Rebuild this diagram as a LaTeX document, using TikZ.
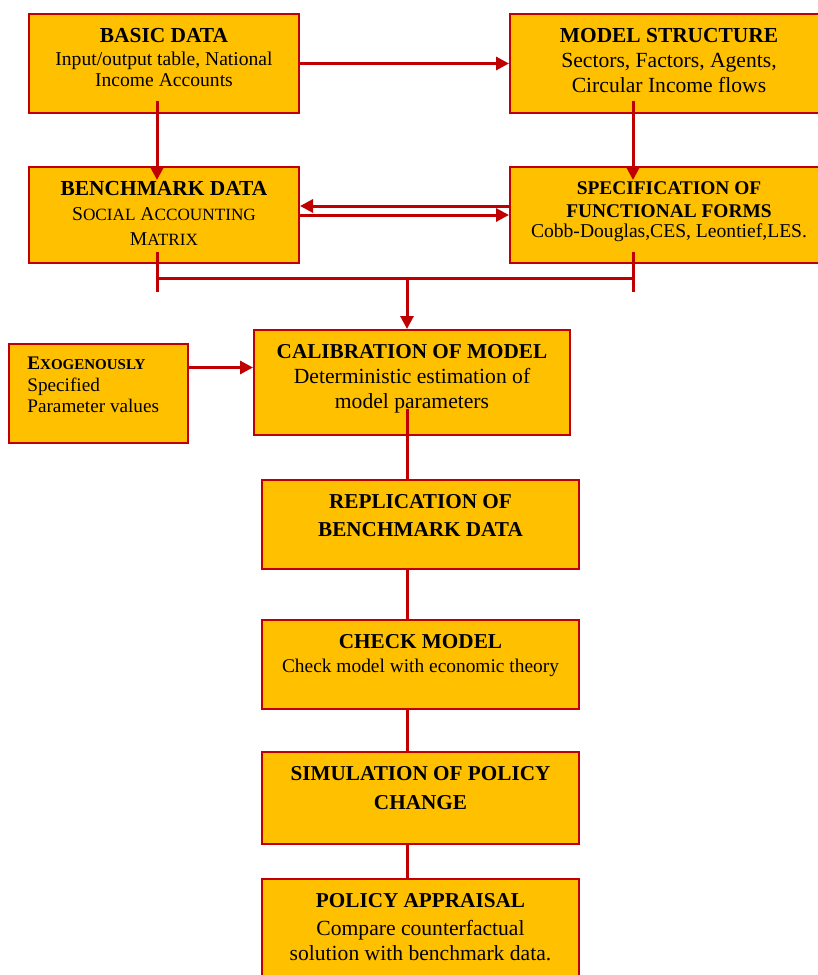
\documentclass[tikz,border=0pt]{standalone}
\usepackage{fontspec}
\setmainfont{Liberation Serif}
\usetikzlibrary{positioning}
\usetikzlibrary{arrows.meta}
\definecolor{cajafondo}{HTML}{FFC000}
\definecolor{rojo}{HTML}{C00000}
\newcommand{\titulo}[2][10.7]{{\fontsize{#1}{12}\selectfont\bfseries #2}}
\newcommand{\versalita}[3][8.6]{#2{\fontsize{#1}{10}\selectfont #3}}

\begin{document}
\begin{tikzpicture}[x=0.5pt, y=-0.5pt,
        caja/.style={draw=rojo, fill=cajafondo, line width=1pt, inner sep=0pt, anchor=north west},
        texto/.style={align=center, inner sep=0pt, anchor=north},
        flujo/.style={draw=rojo, line width=1.5pt},
        >={Triangle[length=6.5pt, width=6.5pt]}]
        \useasboundingbox (0,0) rectangle (818,975);

        % Cajas de arriba
        \node[caja, minimum width=135pt, minimum height=49.5pt] (basic) at (28,13) {};
        \node[caja, minimum width=159pt, minimum height=49.5pt] (model) at (509,13) {};
        \node[caja, minimum width=135pt, minimum height=48pt] (bench) at (28,166) {};
        \node[caja, minimum width=159pt, minimum height=48pt] (spec) at (509,166) {};

        % Calibracion
        \node[caja, minimum width=89.5pt, minimum height=49.5pt] (exo) at (8,343) {};
        \node[caja, minimum width=158pt, minimum height=52.5pt] (calib) at (253,329) {};

        % Cadena central
        \node[caja, minimum width=158.5pt, minimum height=44.5pt] (repl) at (261,479) {};
        \node[caja, minimum width=158.5pt, minimum height=44.5pt] (check) at (261,619) {};
        \node[caja, minimum width=158.5pt, minimum height=46pt] (simul) at (261,751) {};
        \node[caja, minimum width=158.5pt, minimum height=56pt] (policy) at (261,878) {};

        % Textos
        \node[texto, font=\fontsize{9.8}{10.5}\selectfont] (basic-t) at ([yshift=-7.3pt]basic.north)
                {\titulo{BASIC DATA}\\[1pt] Input/output table, National\\ Income Accounts};
        \node[texto, font=\fontsize{10.8}{12.5}\selectfont] (model-t) at ([yshift=-7.3pt]model.north)
                {\titulo{MODEL STRUCTURE}\\ Sectors, Factors, Agents,\\ Circular Income flows};
        \node[texto, font=\fontsize{9.8}{12.5}\selectfont] (bench-t) at ([yshift=-7.3pt]bench.north)
                {\titulo{BENCHMARK DATA}\\ \versalita{S}{OCIAL} \versalita{A}{CCOUNTING}\\ \versalita{M}{ATRIX}};
        \node[texto, font=\fontsize{9.8}{10}\selectfont] (spec-t) at ([yshift=-7.4pt]spec.north)
                {\titulo[9.7]{SPECIFICATION OF}\\[1.5pt] \titulo[9.7]{FUNCTIONAL FORMS}\\ Cobb-Douglas,CES, Leontief,LES.};
        \node[texto, align=left, anchor=north west, font=\fontsize{9.6}{10.75}\selectfont] (exo-t)
                at ([xshift=9.5pt, yshift=-6.9pt]exo.north west)
                {\textbf{\versalita[7.5]{E}{XOGENOUSLY}}\\ Specified\\ Parameter values};
        \node[texto, font=\fontsize{10.8}{12.5}\selectfont] (calib-t) at ([yshift=-7.3pt]calib.north)
                {\titulo[10.6]{CALIBRATION OF MODEL}\\ Deterministic estimation of\\ model parameters};
        \node[texto, font=\fontsize{10.6}{14}\selectfont\bfseries] (repl-t) at ([yshift=-7.5pt]repl.north)
                {REPLICATION OF\\ BENCHMARK DATA};
        \node[texto, font=\fontsize{9.7}{12}\selectfont] (check-t) at ([yshift=-7.3pt]check.north)
                {\titulo[10.6]{CHECK MODEL}\\ Check model with economic theory};
        \node[texto, font=\fontsize{10.6}{14.5}\selectfont\bfseries] (simul-t) at ([yshift=-7.3pt]simul.north)
                {SIMULATION OF POLICY\\ CHANGE};
        \node[texto, font=\fontsize{10.8}{12.5}\selectfont] (policy-t) at ([yshift=-7.3pt]policy.north)
                {\titulo[10.6]{POLICY APPRAISAL}\\[1.5pt] Compare counterfactual\\ solution with benchmark data.};

        % Columnas de las lineas
        \coordinate (lcol) at (157,0);
        \coordinate (rcol) at (633,0);
        \coordinate (mcol) at (407,278);
        \coordinate (lfin) at (157,292);
        \coordinate (rfin) at (633,292);

        % Flechas de arriba
        \draw[flujo, ->] (basic.east) -- (basic.east -| model.west);
        \draw[flujo, ->] ([yshift=6.5pt]basic.south -| lcol) -- ([yshift=-7pt]bench.north -| lcol);
        \draw[flujo, ->] ([yshift=6.5pt]model.south -| rcol) -- ([yshift=-7pt]spec.north -| rcol);
        \draw[flujo, ->] ([yshift=4.5pt]spec.west) -- ([yshift=4.5pt]bench.east);
        \draw[flujo, ->] (bench.east) -- (spec.west);

        % Union hacia la calibracion
        \draw[flujo] ([yshift=6pt]bench.south -| lcol) -- (lfin);
        \draw[flujo] ([yshift=6pt]spec.south -| rcol) -- (rfin);
        \draw[flujo] (mcol -| lcol) -- (mcol -| rcol);
        \draw[flujo, ->] (mcol) -- (calib.north -| mcol);
        \draw[flujo, ->] ([yshift=13pt]exo.east) -- ([yshift=13pt]exo.east -| calib.west);

        % Cadena vertical
        \draw[flujo] ([yshift=13.5pt]calib.south -| mcol) -- (repl.north -| mcol);
        \draw[flujo] (repl.south -| mcol) -- (check.north -| mcol);
        \draw[flujo] (check.south -| mcol) -- (simul.north -| mcol);
        \draw[flujo] (simul.south -| mcol) -- (policy.north -| mcol);
\end{tikzpicture}
\end{document}
